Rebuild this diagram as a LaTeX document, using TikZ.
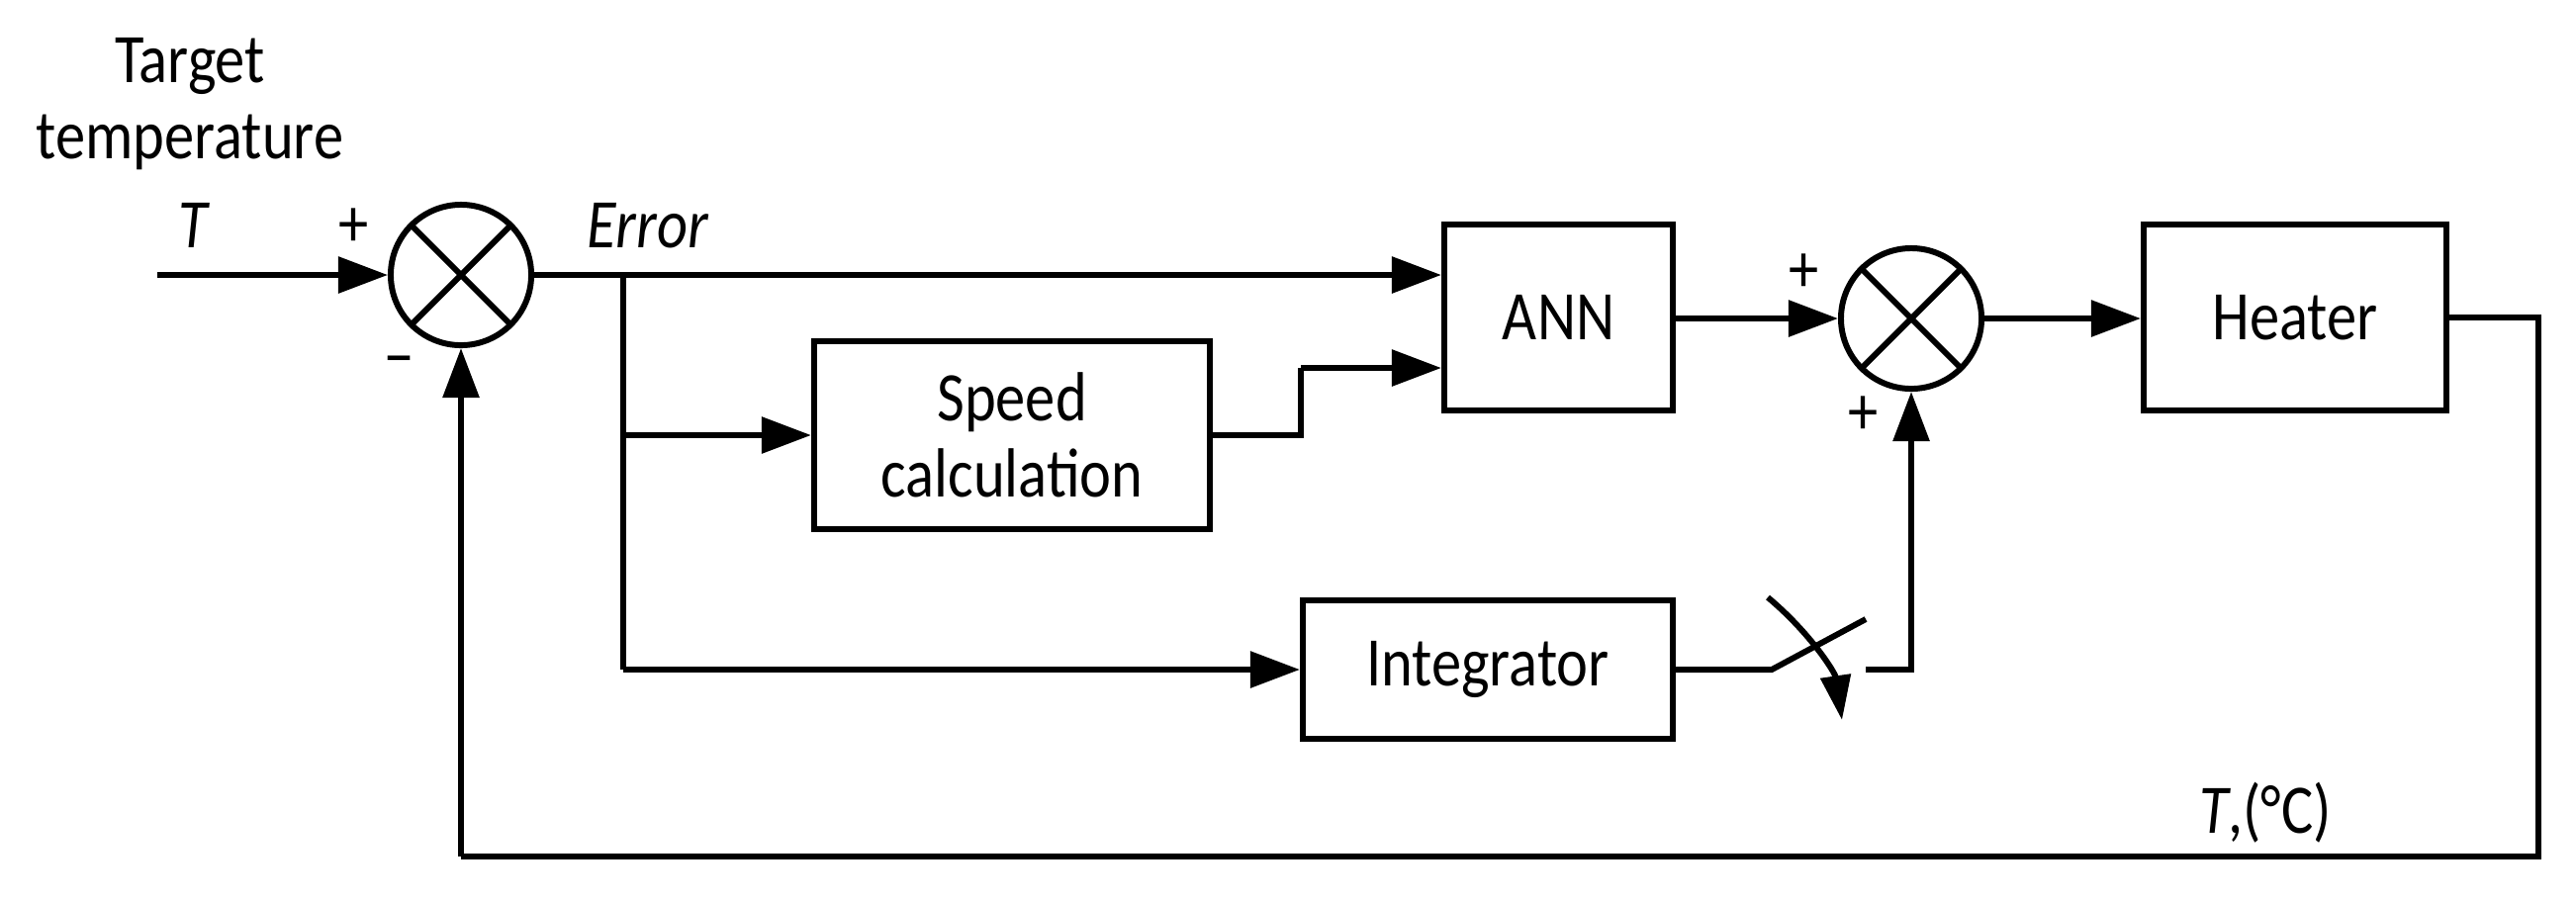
\documentclass[tikz,border=0pt]{standalone}
\usepackage{fontspec}
\setmainfont{Carlito}[FakeStretch=0.86]
\usetikzlibrary{arrows.meta}
\begin{document}
\begin{tikzpicture}[x=0.01cm,y=-0.01cm,line width=1.7pt,
  blk/.style={draw,rectangle,inner sep=0pt,font=\fontsize{20}{24}\selectfont},
  lbl/.style={font=\fontsize{20}{24}\selectfont,inner sep=0pt},
  arr/.style={-{Triangle[length=0.5cm,width=0.36cm]}},
  every path/.style={line cap=butt,line join=miter}]
\useasboundingbox (0,0) rectangle (2604,911);
% blocks
\node[blk,minimum width=4.00cm,minimum height=1.90cm,align=center] (spd) at (1023,440) {Speed\\[-2pt]calculation};
\node[blk,minimum width=2.31cm,minimum height=1.88cm] (ann) at (1575.5,321) {ANN};
\node[blk,minimum width=3.06cm,minimum height=1.88cm] (heat) at (2320,321) {Heater};
\node[blk,minimum width=3.74cm,minimum height=1.40cm] (int) at (1504,677) {Integrator};
% summing junctions
\node[draw,circle,minimum size=1.42cm,inner sep=0pt] (s1) at (466,278) {};
\node[draw,circle,minimum size=1.42cm,inner sep=0pt] (s2) at (1932,322) {};
\foreach \s in {s1,s2}{
  \draw (\s.north west) -- (\s.south east);
  \draw (\s.north east) -- (\s.south west);}
% labels
\node[lbl,align=center] (tt) at (192,105) {Target\\[-2pt]temperature};
\node[lbl] (tl) at (195,228) {\itshape T};
\node[lbl] (pl1) at (358,230) {+};
\node[lbl] (ml1) at (404,372) {\textminus};
\node[lbl] (el) at (655,228) {\itshape Error};
\node[lbl] (pl2) at (1824,276) {+};
\node[lbl] (pl3) at (1884,420) {+};
\node[lbl] (tc) at (2290,822) {\itshape T\upshape,(°C)};
% coordinates
\coordinate (in) at (159,278);
\coordinate (br) at (630,278);
\coordinate (br2) at (630,440);
\coordinate (br3) at (630,677);
\coordinate (a1) at (1315,440);
\coordinate (a2) at (1315,372);
\coordinate (sw1) at (1791,677);
\coordinate (sw2) at (1886,626);
\coordinate (c1) at (1886,677);
\coordinate (c2) at (1932,677);
\coordinate (h1) at (2566,321);
\coordinate (h2) at (2566,866);
\coordinate (f1) at (466,866);
% connectors
\draw[arr] (in) -- (s1.west);
\draw[arr] (s1.east) -- (ann.west |- s1.east);
\draw (br) -- (br3);
\draw[arr] (br2) -- (spd.west);
\draw[arr] (br3) -- (int.west);
\draw (spd.east) -- (a1) -- (a2);
\draw[arr] (a2) -- (ann.west |- a2);
\draw[arr] (ann.east |- s2.west) -- (s2.west);
\draw[arr] (s2.east) -- (heat.west |- s2.east);
\draw (int.east) -- (sw1) -- (sw2);
\draw[arr] (c1) -- (c2) -- (s2.south);
\draw[-{Triangle[length=0.45cm,width=0.3cm]}] (1787,604) .. controls (1830,640) and (1855,680) .. (1862,728);
\draw (heat.east |- h1) -- (h1) -- (h2) -- (f1);
\draw[arr] (f1) -- (s1.south);
\end{tikzpicture}
\end{document}
